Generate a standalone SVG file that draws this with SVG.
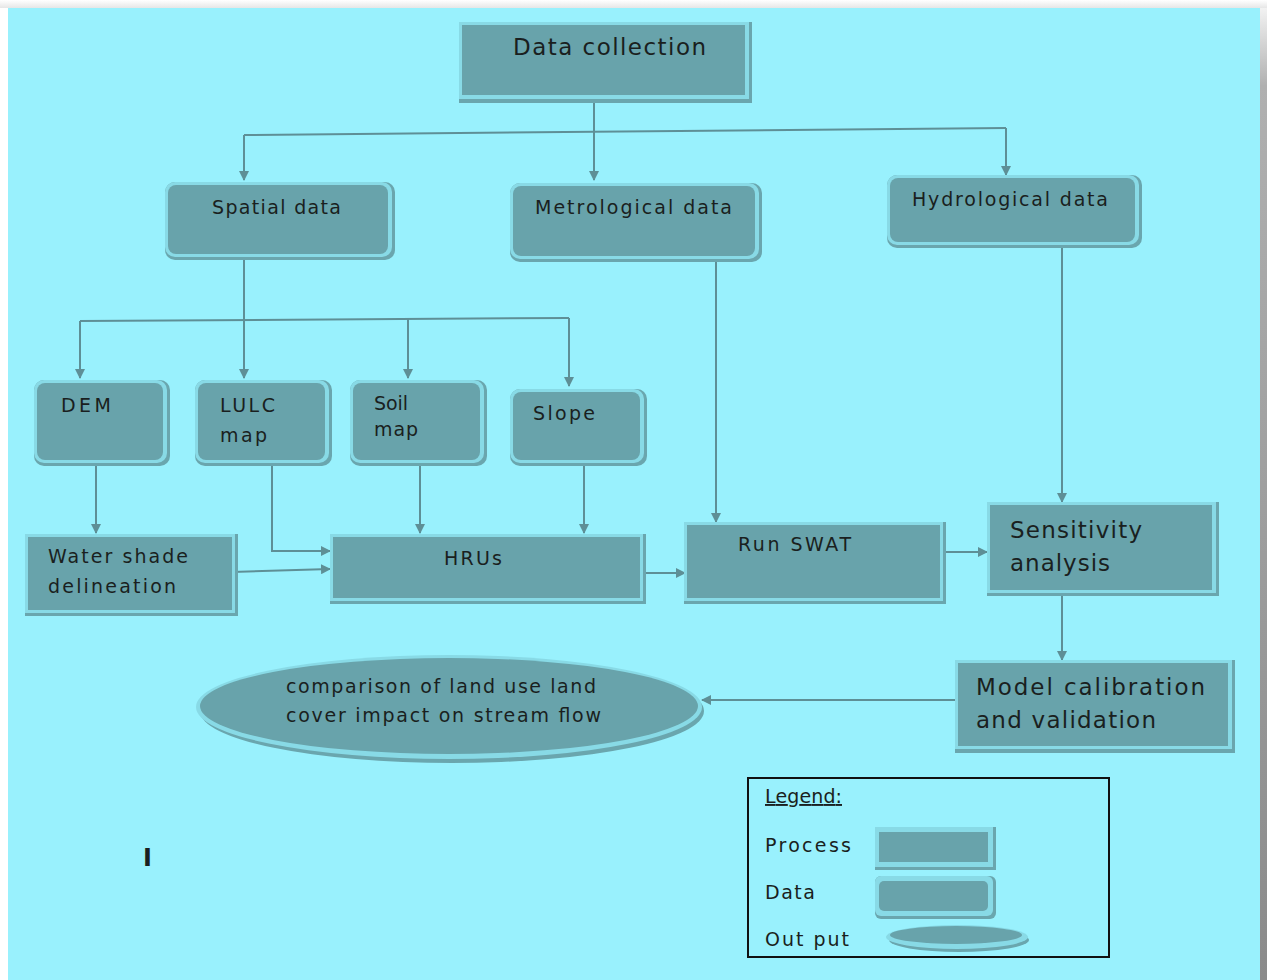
<svg xmlns="http://www.w3.org/2000/svg" width="1267" height="980" viewBox="0 0 1267 980">
<defs>
<linearGradient id="rs" x1="0" y1="0" x2="0" y2="1">
<stop offset="0" stop-color="#f2f2f2"/><stop offset="0.08" stop-color="#b0b0b0"/><stop offset="1" stop-color="#8a8a8a"/>
</linearGradient>
<linearGradient id="ts" x1="0" y1="0" x2="0" y2="1">
<stop offset="0" stop-color="#ffffff"/><stop offset="1" stop-color="#e6e6e6"/>
</linearGradient>
<marker id="ah" viewBox="0 0 10 10" refX="9" refY="5" markerWidth="10" markerHeight="10" markerUnits="userSpaceOnUse" orient="auto">
<path d="M0,0 L10,5 L0,10 z" fill="#5E8F96"/>
</marker>
<style>
.sh{fill:#6AA6AE}
.ha{fill:#88DAE6}
.fi{fill:#68A3AB}
.t{font-family:"DejaVu Sans","Liberation Sans",sans-serif;fill:#1a1f20}
.s18{font-size:19px}
.s22{font-size:23px}
.c{stroke:#5E8F96;stroke-width:2;fill:none}
.a{marker-end:url(#ah)}
</style>
</defs>
<rect x="0" y="0" width="1267" height="980" fill="#ffffff"/>
<rect x="0" y="0" width="1267" height="8" fill="url(#ts)"/>
<rect x="1260" y="8" width="7" height="972" fill="url(#rs)"/>
<rect x="8" y="8" width="1252" height="972" fill="#99F1FD"/>

<g id="connectors">
<path class="c a" d="M594,97 V180"/>
<path class="c" d="M244,135 L1006,128"/>
<path class="c a" d="M244,135 V180"/>
<path class="c a" d="M1006,128 V175"/>
<path class="c a" d="M244,258 V378"/>
<path class="c" d="M80,321 L569,318"/>
<path class="c a" d="M80,321 V378"/>
<path class="c a" d="M408,319 V378"/>
<path class="c a" d="M569,318 V386"/>
<path class="c a" d="M96,462 V533"/>
<path class="c a" d="M272,462 V551 H330"/>
<path class="c a" d="M232,572 L330,569"/>
<path class="c a" d="M420,462 V533"/>
<path class="c a" d="M584,462 V533"/>
<path class="c a" d="M641,573 H685"/>
<path class="c a" d="M716,258 V522"/>
<path class="c a" d="M944,552 H987"/>
<path class="c a" d="M1062,244 V502"/>
<path class="c a" d="M1062,594 V660"/>
<path class="c a" d="M958,700 H702"/>
</g>

<g id="data-collection">
<rect class="sh" x="459" y="22" width="293" height="81"/>
<rect class="ha" x="459" y="22" width="290" height="77"/>
<rect class="fi" x="462" y="25" width="283" height="70"/>
<text class="t s22" x="513" y="55" textLength="193">Data collection</text>
</g>

<g id="spatial-data">
<rect class="sh" x="165" y="182" width="230" height="78" rx="10"/>
<rect class="ha" x="165" y="182" width="227" height="75" rx="10"/>
<rect class="fi" x="168" y="185" width="220" height="69" rx="8"/>
<text class="t s18" x="212" y="214" textLength="129">Spatial data</text>
</g>

<g id="metrological-data">
<rect class="sh" x="510" y="183" width="252" height="79" rx="10"/>
<rect class="ha" x="510" y="183" width="249" height="76" rx="10"/>
<rect class="fi" x="513" y="186" width="242" height="70" rx="8"/>
<text class="t s18" x="535" y="214" textLength="197">Metrological data</text>
</g>

<g id="hydrological-data">
<rect class="sh" x="887" y="175" width="255" height="73" rx="10"/>
<rect class="ha" x="887" y="175" width="252" height="70" rx="10"/>
<rect class="fi" x="890" y="178" width="245" height="64" rx="8"/>
<text class="t s18" x="912" y="206" textLength="196">Hydrological data</text>
</g>

<g id="dem">
<rect class="sh" x="34" y="380" width="136" height="86" rx="10"/>
<rect class="ha" x="34" y="380" width="133" height="83" rx="10"/>
<rect class="fi" x="37" y="383" width="126" height="77" rx="8"/>
<text class="t s18" x="61" y="412" textLength="50">DEM</text>
</g>

<g id="lulc-map">
<rect class="sh" x="195" y="380" width="137" height="86" rx="10"/>
<rect class="ha" x="195" y="380" width="134" height="83" rx="10"/>
<rect class="fi" x="198" y="383" width="127" height="77" rx="8"/>
<text class="t s18" x="220" y="412" textLength="55">LULC</text>
<text class="t s18" x="220" y="442" textLength="47">map</text>
</g>

<g id="soil-map">
<rect class="sh" x="350" y="380" width="137" height="86" rx="10"/>
<rect class="ha" x="350" y="380" width="134" height="83" rx="10"/>
<rect class="fi" x="353" y="383" width="127" height="77" rx="8"/>
<text class="t s18" x="374" y="410" textLength="34">Soil</text>
<text class="t s18" x="374" y="436" textLength="44">map</text>
</g>

<g id="slope">
<rect class="sh" x="510" y="389" width="137" height="77" rx="10"/>
<rect class="ha" x="510" y="389" width="134" height="74" rx="10"/>
<rect class="fi" x="513" y="392" width="127" height="68" rx="8"/>
<text class="t s18" x="533" y="420" textLength="62">Slope</text>
</g>

<g id="water-shade-delineation">
<rect class="sh" x="25" y="534" width="213" height="82"/>
<rect class="ha" x="25" y="534" width="210" height="79"/>
<rect class="fi" x="28" y="537" width="204" height="73"/>
<text class="t s18" x="48" y="563" textLength="140">Water shade</text>
<text class="t s18" x="48" y="593" textLength="128">delineation</text>
</g>

<g id="hrus">
<rect class="sh" x="330" y="534" width="316" height="70"/>
<rect class="ha" x="330" y="534" width="313" height="67"/>
<rect class="fi" x="333" y="537" width="307" height="61"/>
<text class="t s18" x="444" y="565" textLength="58">HRUs</text>
</g>

<g id="run-swat">
<rect class="sh" x="684" y="522" width="262" height="82"/>
<rect class="ha" x="684" y="522" width="259" height="79"/>
<rect class="fi" x="687" y="525" width="253" height="73"/>
<text class="t s18" x="738" y="551" textLength="113">Run SWAT</text>
</g>

<g id="sensitivity-analysis">
<rect class="sh" x="987" y="502" width="232" height="94"/>
<rect class="ha" x="987" y="502" width="229" height="91"/>
<rect class="fi" x="990" y="505" width="222" height="85"/>
<text class="t s22" x="1010" y="538" textLength="132">Sensitivity</text>
<text class="t s22" x="1010" y="571" textLength="100">analysis</text>
</g>

<g id="model-calibration">
<rect class="sh" x="955" y="660" width="280" height="93"/>
<rect class="ha" x="955" y="660" width="277" height="89"/>
<rect class="fi" x="958" y="663" width="270" height="83"/>
<text class="t s22" x="976" y="695" textLength="229">Model calibration</text>
<text class="t s22" x="976" y="728" textLength="180">and validation</text>
</g>

<g id="output-ellipse">
<ellipse cx="452" cy="711" rx="252" ry="52" class="sh"/>
<ellipse cx="449" cy="707" rx="253" ry="52" class="ha"/>
<ellipse cx="449" cy="706" rx="249" ry="48" class="fi"/>
<text class="t s18" x="286" y="693" textLength="310">comparison of land use land</text>
<text class="t s18" x="286" y="722" textLength="315">cover impact on stream flow</text>
</g>

<g id="legend">
<rect x="748" y="778" width="361" height="179" fill="none" stroke="#111" stroke-width="2"/>
<text class="t s18" x="765" y="803" textLength="77" text-decoration="underline">Legend:</text>
<text class="t s18" x="765" y="852" textLength="86">Process</text>
<text class="t s18" x="765" y="899" textLength="50">Data</text>
<text class="t s18" x="765" y="946" textLength="84">Out put</text>
<rect class="sh" x="875" y="827" width="121" height="43"/>
<rect class="ha" x="875" y="827" width="118" height="40"/>
<rect class="fi" x="879" y="832" width="109" height="30"/>
<rect class="sh" x="875" y="876" width="121" height="43" rx="6"/>
<rect class="ha" x="875" y="876" width="118" height="40" rx="6"/>
<rect class="fi" x="879" y="881" width="109" height="30" rx="5"/>
<ellipse cx="959" cy="940" rx="70" ry="12" class="sh"/>
<ellipse cx="957" cy="937" rx="71" ry="12" class="ha"/>
<ellipse cx="956" cy="935" rx="66" ry="9" class="fi"/>
</g>

<text class="t" x="143" y="866" font-size="24" font-weight="bold" fill="#000">I</text>
</svg>
